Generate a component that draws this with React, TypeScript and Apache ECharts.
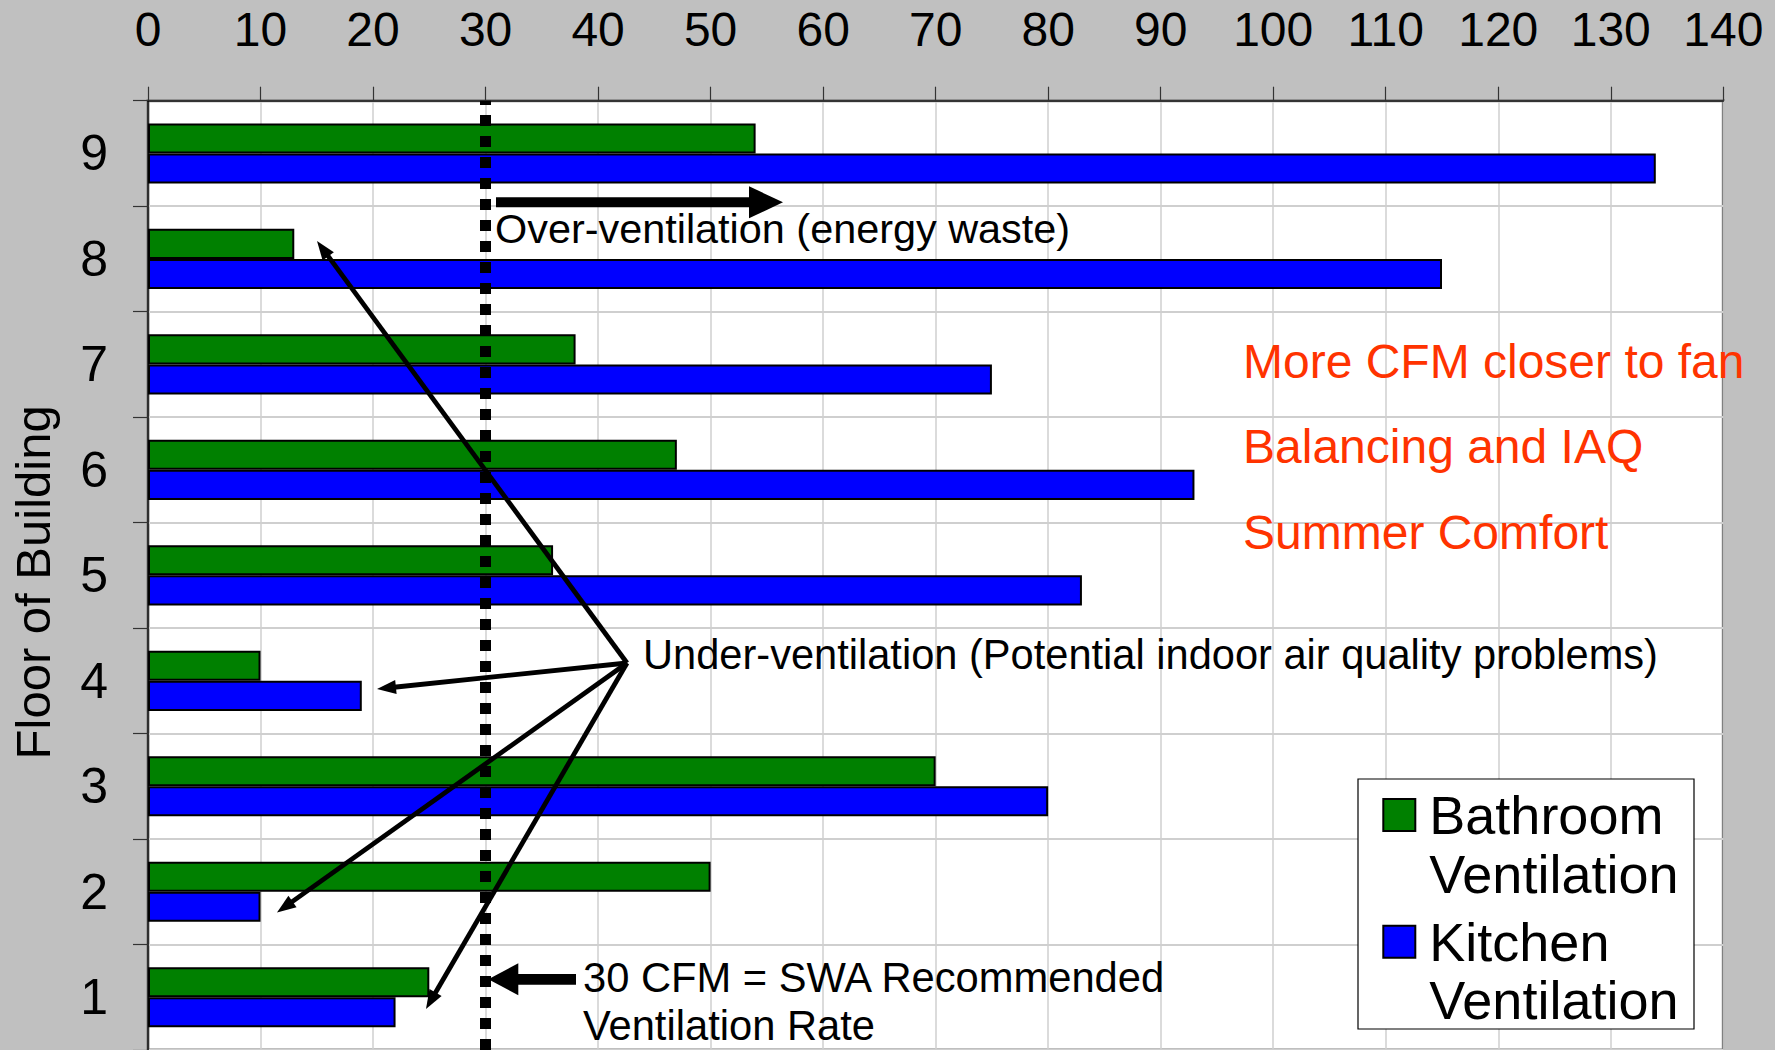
import React, { useEffect, useRef } from 'react';
import * as echarts from 'echarts';

// ---- data ----
const floors = ['1', '2', '3', '4', '5', '6', '7', '8', '9'];
const bathroom = [25, 50, 70, 10, 36, 47, 38, 13, 54];
const kitchen = [22, 10, 80, 19, 83, 93, 75, 115, 134];
const xMin = 0;
const xMax = 140;
const xInterval = 10;
const recommendedCfm = 30;
const seriesNames = ['Bathroom Ventilation', 'Kitchen Ventilation'];
const seriesColors = ['#008000', '#0000FF'];
const redNotes = ['More CFM closer to fan', 'Balancing and IAQ', 'Summer Comfort'];
const overText = 'Over-ventilation (energy waste)';
const underText = 'Under-ventilation (Potential indoor air quality problems)';
const cfmLines = ['30 CFM = SWA Recommended', 'Ventilation Rate'];

const FONT = '"Liberation Sans", Arial, Helvetica, sans-serif';

type Pt = [number, number];

function arrow(from: Pt, tip: Pt, len: number, half: number, width: number, z: number) {
  const dx = tip[0] - from[0];
  const dy = tip[1] - from[1];
  const d = Math.hypot(dx, dy);
  const ux = dx / d;
  const uy = dy / d;
  const bx = tip[0] - ux * len;
  const by = tip[1] - uy * len;
  return [
    {
      type: 'line',
      silent: true,
      z,
      shape: { x1: from[0], y1: from[1], x2: bx + ux * 2, y2: by + uy * 2 },
      style: { stroke: '#000', lineWidth: width, lineJoin: 'miter' },
    },
    {
      type: 'polygon',
      silent: true,
      z,
      shape: {
        points: [
          [tip[0], tip[1]],
          [bx - uy * half, by + ux * half],
          [bx + uy * half, by - ux * half],
        ],
      },
      style: { fill: '#000' },
    },
  ];
}

function text(str: string, x: number, baseline: number, size: number, color: string) {
  return {
    type: 'text',
    silent: true,
    z: 20,
    x,
    y: baseline - size * 0.35,
    style: {
      text: str,
      fontSize: size,
      fontFamily: FONT,
      fill: color,
      align: 'left',
      verticalAlign: 'middle',
    },
  };
}

export default function App() {
  const ref = useRef<HTMLDivElement>(null);

  useEffect(() => {
    const chart = echarts.init(ref.current!, undefined, { renderer: 'svg' });

    const apex: Pt = [627, 663];
    const underTips: Pt[] = [
      [317, 241],
      [377, 689],
      [277, 912.5],
      [426, 1009],
    ];

    const graphics: any[] = [
      {
        type: 'rect',
        silent: true,
        z: 5,
        shape: { x: 1358, y: 779, width: 336, height: 250 },
        style: { fill: '#fff', stroke: '#000', lineWidth: 1.2 },
      },
      ...arrow([496, 202.3], [783, 202.3], 34, 16, 10, 20),
      ...arrow([576, 979.3], [488.3, 979.3], 30, 16, 10.7, 20),
      ...underTips.flatMap((t) => arrow(apex, t, 19, 7, 4.8, 20)),
      text(overText, 495, 243, 41.4, '#000'),
      text(underText, 643, 668.8, 41.6, '#000'),
      text(cfmLines[0], 583, 992, 41.7, '#000'),
      text(cfmLines[1], 583, 1040, 41.7, '#000'),
      text(redNotes[0], 1243, 378.3, 48, '#FF3300'),
      text(redNotes[1], 1243, 463.3, 48, '#FF3300'),
      text(redNotes[2], 1243, 549.3, 48, '#FF3300'),
    ];

    const LH = 58.5;
    const legendCommon = {
      orient: 'vertical',
      left: 1382.3,
      padding: 0,
      itemWidth: 32,
      itemHeight: 32,
      icon: 'rect',
      selectedMode: false,
      z: 10,
      formatter: (name: string) => '\n' + name.replace(' ', '\n'),
      textStyle: {
        fontSize: 54,
        fontFamily: FONT,
        color: '#000',
        lineHeight: LH,
        padding: [0, 0, 0, 9],
      },
    };

    chart.setOption({
      animation: false,
      backgroundColor: '#C0C0C0',
      textStyle: { fontFamily: FONT },
      grid: {
        left: 145.3,
        top: 100.7,
        width: 1578,
        height: 954,
        show: true,
        backgroundColor: '#FFFFFF',
        borderColor: '#808080',
        borderWidth: 3,
        containLabel: false,
      },
      legend: [
        { ...legendCommon, data: [seriesNames[0]], top: 799 - 1.5 * LH + 16 },
        { ...legendCommon, data: [seriesNames[1]], top: 925.7 - 1.5 * LH + 16 },
      ],
      xAxis: {
        type: 'value',
        position: 'top',
        min: xMin,
        max: xMax,
        interval: xInterval,
        axisLine: { show: true, lineStyle: { color: '#000', width: 1.5 } },
        axisTick: { show: true, length: 14, lineStyle: { color: '#333', width: 1.2 } },
        axisLabel: { fontSize: 48, color: '#000', margin: 47, fontFamily: FONT },
        splitLine: { show: true, lineStyle: { color: '#CFCFCF', width: 1.5 } },
      },
      yAxis: {
        type: 'category',
        data: floors,
        name: 'Floor of Building',
        nameLocation: 'middle',
        nameGap: 91,
        nameTextStyle: { fontSize: 49, color: '#000', fontFamily: FONT, padding: [0, 14, 0, 0] },
        axisLine: { show: true, lineStyle: { color: '#000', width: 1.5 } },
        axisTick: { show: true, length: 15, lineStyle: { color: '#333', width: 1.2 } },
        axisLabel: { fontSize: 50, color: '#000', margin: 40, fontFamily: FONT },
        splitLine: { show: true, lineStyle: { color: '#CFCFCF', width: 2 } },
      },
      series: [
        {
          name: seriesNames[0],
          type: 'bar',
          data: bathroom,
          barGap: '0%',
          barCategoryGap: '43%',
          itemStyle: { color: seriesColors[0], borderColor: '#000', borderWidth: 2 },
          markLine: {
            silent: true,
            symbol: ['none', 'none'],
            label: { show: false },
            lineStyle: { color: '#000', width: 11, type: [11, 10], opacity: 1 },
            data: [{ xAxis: recommendedCfm }],
          },
        },
        {
          name: seriesNames[1],
          type: 'bar',
          data: kitchen,
          barGap: '0%',
          barCategoryGap: '43%',
          itemStyle: { color: seriesColors[1], borderColor: '#000', borderWidth: 2 },
        },
      ],
      graphic: graphics,
    });

    return () => chart.dispose();
  }, []);

  return (
    <div
      ref={ref}
      style={{ position: 'absolute', left: 0, top: 0, width: 1775, height: 1050 }}
    />
  );
}
